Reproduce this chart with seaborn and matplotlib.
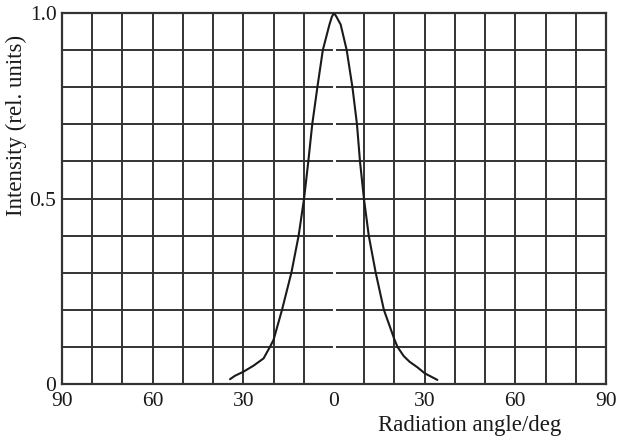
import numpy as np
import pandas as pd
import matplotlib
matplotlib.use("Agg")
import matplotlib.pyplot as plt
import seaborn as sns

# Radiation pattern: relative intensity versus angle (deg)
angle_deg = [-34.4, -32.8, -30, -26.7, -23.3, -21.2, -20, -17.2, -14.1, -11.7,
             -9.9, -8.5, -7.2, -5.5, -3.7, -1.5, -0.7, 0, 0.8, 2.2,
             4.2, 6.1, 7.6, 8.6, 9.9, 11.5, 13.8, 16.5, 20, 21,
             23.1, 25, 27.6, 30, 32.1, 34.2]
intensity = [0.013, 0.022, 0.033, 0.049, 0.069, 0.10, 0.119, 0.20, 0.30, 0.40,
             0.50, 0.60, 0.70, 0.80, 0.90, 0.969, 0.99, 1.0, 0.99, 0.969,
             0.90, 0.80, 0.70, 0.60, 0.50, 0.40, 0.30, 0.20, 0.12, 0.10,
             0.075, 0.06, 0.045, 0.029, 0.02, 0.011]

x_ticks = [-90, -60, -30, 0, 30, 60, 90]
x_tick_labels = ["90", "60", "30", "0", "30", "60", "90"]
y_ticks = [0, 0.5, 1.0]
y_tick_labels = ["0", "0.5", "1.0"]

df = pd.DataFrame({"angle": angle_deg, "intensity": intensity})

sns.set_theme(style="white")
plt.rcParams["font.family"] = ["Liberation Serif", "DejaVu Serif"]

fig = plt.figure(figsize=(6.17, 4.41), dpi=100)
ax = fig.add_axes([62 / 617, 1 - 384 / 441, 544 / 617, 371 / 441])

grid_color = "#333333"
# Square grid: every 10 deg and every 0.1 intensity units
for gx in np.arange(-80, 90, 10):
    ax.axvline(gx, color=grid_color, lw=1.4, zorder=1)
for gy in np.arange(0.1, 1.0, 0.1):
    ax.axhline(gy, color=grid_color, lw=1.4, zorder=1)
# blank centre line at 0 deg
ax.axvline(0, color="white", lw=2.2, zorder=2)

sns.lineplot(data=df, x="angle", y="intensity", ax=ax, color="#1a1a1a",
             lw=1.5, sort=False, zorder=3)

ax.set_xlim(-90, 90)
ax.set_ylim(0, 1.0)
ax.set_xticks(x_ticks)
ax.set_xticklabels(x_tick_labels)
ax.set_yticks(y_ticks)
ax.set_yticklabels(y_tick_labels)
ax.tick_params(axis="both", length=0, labelsize=15.5, colors="#1a1a1a")
ax.tick_params(axis="x", pad=6)
ax.tick_params(axis="y", pad=4)

for side in ["left", "right", "top", "bottom"]:
    ax.spines[side].set_visible(True)
    ax.spines[side].set_color(grid_color)
    ax.spines[side].set_linewidth(1.6)

ax.set_xlabel("Radiation angle/deg", fontsize=16.5, color="#1a1a1a")
ax.xaxis.set_label_coords(0.75, -0.112)
ax.xaxis.label.set_va("center")
ax.set_ylabel("Intensity (rel. units)", fontsize=16.5, color="#1a1a1a")
ax.yaxis.set_label_coords(-0.083, 0.698)
ax.yaxis.label.set_va("center")

fig.savefig("out.png", dpi=100)
